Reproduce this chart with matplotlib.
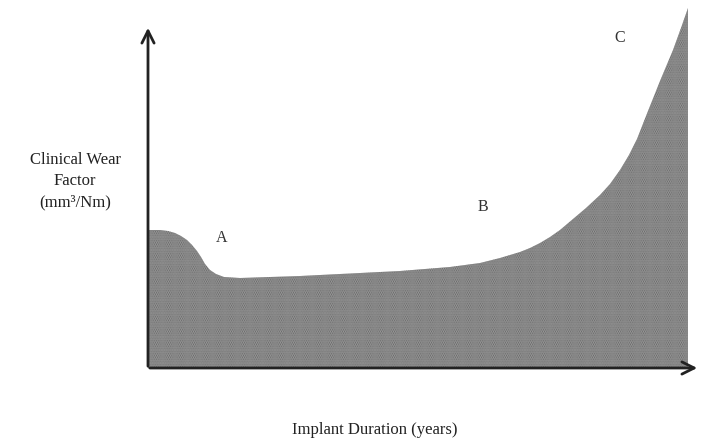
import matplotlib
matplotlib.use("Agg")
import matplotlib.pyplot as plt

# Wear curve over implant life (schematic, arbitrary units)
duration = [0, 12, 20, 27, 33, 39, 44, 49, 53, 57, 62, 68, 76, 92, 152, 192,
            252, 302, 332, 352, 362, 372, 382, 392, 402, 412, 425, 438, 452,
            462, 472, 481, 489, 500, 512, 525, 533, 540]
wear = [138, 138, 137, 135, 132, 128, 123, 117, 111, 104, 98, 94, 91, 90, 92,
        94, 97, 101, 105, 110, 113, 116, 120, 125, 131, 138, 149, 160, 173,
        184, 198, 213, 229, 257, 287, 318, 340, 360]

# Region markers along the curve
region_labels = ["A", "B", "C"]
region_x = [74, 335, 472]
region_y = [130, 161, 330]

plt.rcParams['font.family'] = ['Liberation Serif', 'DejaVu Serif']

fig = plt.figure(figsize=(7.05, 4.42), dpi=100)
ax = fig.add_axes([148 / 705, 74 / 442, 552 / 705, 343 / 442])
ax.set_xlim(0, 552)
ax.set_ylim(0, 343)
ax.axis('off')

# Stippled area under the curve
x_fill = duration + [duration[-1]]
y_fill = wear + [0]
ax.fill_between(x_fill, 0, y_fill, facecolor='#b4b4b4', edgecolor='#5a5a5a',
                hatch='.........', linewidth=0, clip_on=False)

# Axes drawn as arrows
ax.annotate('', xy=(0, 343), xytext=(0, -1), xycoords='data',
            arrowprops=dict(arrowstyle='->', lw=2, color='#222222', mutation_scale=22),
            annotation_clip=False)
ax.annotate('', xy=(552, 0), xytext=(-1, 0), xycoords='data',
            arrowprops=dict(arrowstyle='->', lw=2, color='#222222', mutation_scale=22),
            annotation_clip=False)

for lab, lx, ly in zip(region_labels, region_x, region_y):
    ax.text(lx, ly, lab, fontsize=11.5, color='#333333', ha='center', va='center')

fig.text(75 / 705, 1 - 181 / 442, "Clinical Wear\nFactor\n(mm\u00b3/Nm)",
         ha='center', va='center', fontsize=12, color='#222222', linespacing=1.45)
fig.text(375 / 705, 1 - 430 / 442, "Implant Duration (years)",
         ha='center', va='center', fontsize=12, color='#222222')

fig.savefig("out.png", dpi=100)
